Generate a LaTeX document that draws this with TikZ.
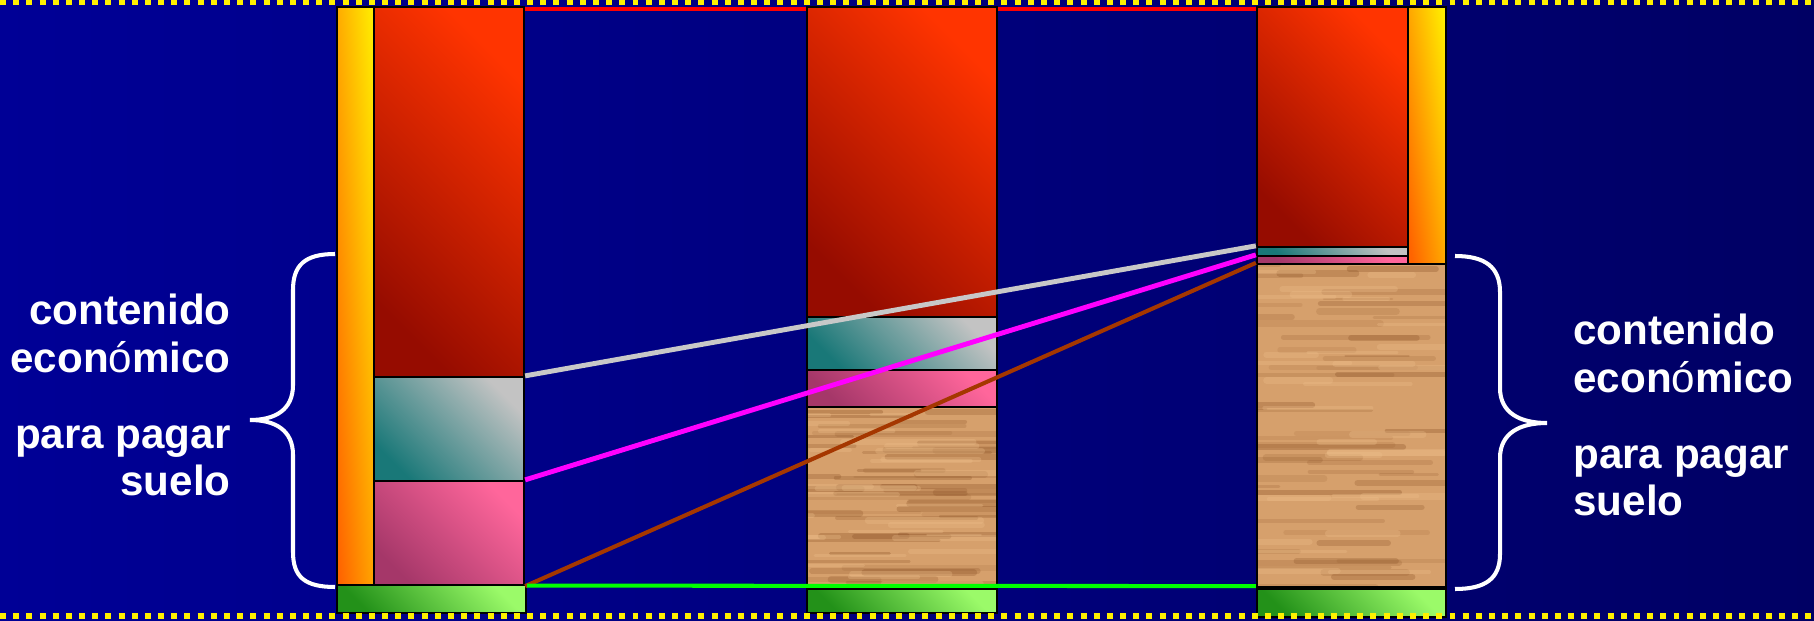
\documentclass[tikz,border=0pt]{standalone}
\usepackage{fontspec}
\setmainfont{Liberation Sans}
\usetikzlibrary{fit, calc}
\definecolor{bgleft}{RGB}{0,0,150}
\definecolor{bgright}{RGB}{0,0,100}
\definecolor{dotyel}{RGB}{255,240,0}
\definecolor{redhi}{RGB}{255,52,0}
\definecolor{redlo}{RGB}{150,12,0}
\definecolor{grayhi}{RGB}{195,195,195}
\definecolor{graylo}{RGB}{25,120,120}
\definecolor{pinkhi}{RGB}{255,102,155}
\definecolor{pinklo}{RGB}{165,55,105}
\definecolor{greenhi}{RGB}{155,250,105}
\definecolor{greenlo}{RGB}{35,145,25}
\definecolor{stripyel}{RGB}{255,235,0}
\definecolor{stripora}{RGB}{255,100,0}
\definecolor{woodtan}{RGB}{214,160,108}
\definecolor{woodbrown}{RGB}{135,78,35}
\definecolor{woodlight}{RGB}{238,192,140}
\definecolor{linegray}{RGB}{200,200,200}
\definecolor{linemag}{RGB}{255,0,255}
\definecolor{linebrown}{RGB}{165,55,0}
\definecolor{linegreen}{RGB}{0,255,0}
\definecolor{linered}{RGB}{255,0,0}

\tikzset{
  blk/.style={rectangle, draw=black, line width=1.3pt, inner sep=0pt},
  grad/.style 2 args={blk, top color=#1, bottom color=#2, shading angle=-45},
  strip/.style={blk, left color=stripora, right color=stripyel, shading angle=#1},
  wood/.style={blk, fill=woodtan, path picture={
    \pgfmathsetseed{#1}
    \foreach \k in {1,...,50}{
      \pgfmathsetmacro{\ya}{rnd}
      \pgfmathsetmacro{\xa}{rnd-0.3}
      \pgfmathsetmacro{\la}{0.3+0.6*rnd}
      \pgfmathsetmacro{\wa}{1.2+2.8*rnd}
      \pgfmathsetmacro{\oa}{0.1+0.22*rnd}
      \draw[woodbrown, line width=\wa pt, opacity=\oa, line cap=round]
        let \p1=(path picture bounding box.south west),
            \p2=(path picture bounding box.north east) in
        ({\x1+(\xa)*(\x2-\x1)},{\y1+\ya*(\y2-\y1)}) -- ++({\la*(\x2-\x1)},0pt);
    }
    \foreach \k in {1,...,30}{
      \pgfmathsetmacro{\ya}{rnd}
      \pgfmathsetmacro{\xa}{rnd-0.3}
      \pgfmathsetmacro{\la}{0.2+0.5*rnd}
      \pgfmathsetmacro{\wa}{1.5+2.5*rnd}
      \draw[woodlight, line width=\wa pt, opacity=0.3, line cap=round]
        let \p1=(path picture bounding box.south west),
            \p2=(path picture bounding box.north east) in
        ({\x1+(\xa)*(\x2-\x1)},{\y1+\ya*(\y2-\y1)}) -- ++({\la*(\x2-\x1)},0pt);
    }
  }},
  link/.style={line width=2.8pt},
  brace/.style={draw=white, line width=2.3pt},
  lbl/.style={text=white, inner sep=0pt, font=\fontsize{24}{27.2}\selectfont\bfseries},
  dots/.style={dotyel, line width=3.4pt, dash pattern=on 3.4pt off 4.1pt}
}

\begin{document}
\begin{tikzpicture}[x=0.02cm, y=-0.02cm]

% background
\shade[left color=bgleft, right color=bgright] (0,0) rectangle (1814,621);
\useasboundingbox (0,0) rectangle (1814,621);

% left column
\node[strip=94, fit={(337,7) (374,585)}] (lstrip) {};
\node[grad={redhi}{redlo}, fit={(374,7) (524,377)}] (lred) {};
\node[grad={grayhi}{graylo}, fit={(374,377) (524,481)}] (lgray) {};
\node[grad={pinkhi}{pinklo}, fit={(374,481) (524,585)}] (lpink) {};
\node[grad={greenhi}{greenlo}, fit={(337,585) (526,613)}] (lbase) {};

% right column
\node[grad={redhi}{redlo}, fit={(1257,7) (1408,247)}] (rred) {};
\node[grad={grayhi}{graylo}, fit={(1257,247) (1408,256)}] (rgray) {};
\node[grad={pinkhi}{pinklo}, fit={(1257,256) (1408,264)}] (rpink) {};
\node[strip=98, fit={(1408,7) (1446,264)}] (rstrip) {};
\node[wood=7, fit={(1257,264) (1446,587)}] (rwood) {};
\node[grad={greenhi}{greenlo}, fit={(1257,589) (1446,617)}] (rbase) {};

% top line
\draw[link, linered, line width=2.3pt] ([yshift=-1.7pt]lred.north east) -- ([yshift=-1.7pt]rred.north west);

% middle column
\node[grad={redhi}{redlo}, fit={(807,7) (997,317)}] (mred) {};
\node[grad={grayhi}{graylo}, fit={(807,317) (997,370)}] (mgray) {};
\node[grad={pinkhi}{pinklo}, fit={(807,370) (997,407)}] (mpink) {};
\node[wood=3, fit={(807,407) (997,587)}] (mwood) {};
\node[grad={greenhi}{greenlo}, fit={(807,589) (997,613)}] (mbase) {};

% links
\draw[link, linegray] (lgray.north east) -- (rgray.north west);
\draw[link, linemag] (lpink.north east) -- (rpink.north west);
\draw[link, linebrown, line width=2.3pt] (lpink.south east) -- (rwood.north west);
\draw[link, linegreen, line width=2.3pt] ([yshift=-1pt]lbase.north east) -- ([yshift=1pt]rbase.north west);

% braces
\draw[brace] (335,254) .. controls (305,254) and (293,265) .. (293,290) -- (293,385)
  .. controls (293,410) and (275,420) .. (250,420)
  .. controls (275,420) and (293,430) .. (293,455) -- (293,552)
  .. controls (293,577) and (305,587) .. (335,587);
\draw[brace] (1455,256) .. controls (1485,256) and (1500,267) .. (1500,292) -- (1500,388)
  .. controls (1500,413) and (1520,423) .. (1547,423)
  .. controls (1520,423) and (1500,433) .. (1500,458) -- (1500,554)
  .. controls (1500,579) and (1485,589) .. (1455,589);

% labels
\node[lbl, anchor=east, align=right] (ltext) at (231,395)
  {contenido\\econ{\mdseries ó}mico\\[16pt]para pagar\\suelo};
\node[lbl, anchor=west, align=left] (rtext) at (1573,415)
  {contenido\\econ{\mdseries ó}mico\\[16pt]para pagar\\suelo};

% dotted borders
\draw[dots] (0,2.5) -- (1814,2.5);
\draw[dots] (0,616) -- (1814,616);

\end{tikzpicture}
\end{document}
